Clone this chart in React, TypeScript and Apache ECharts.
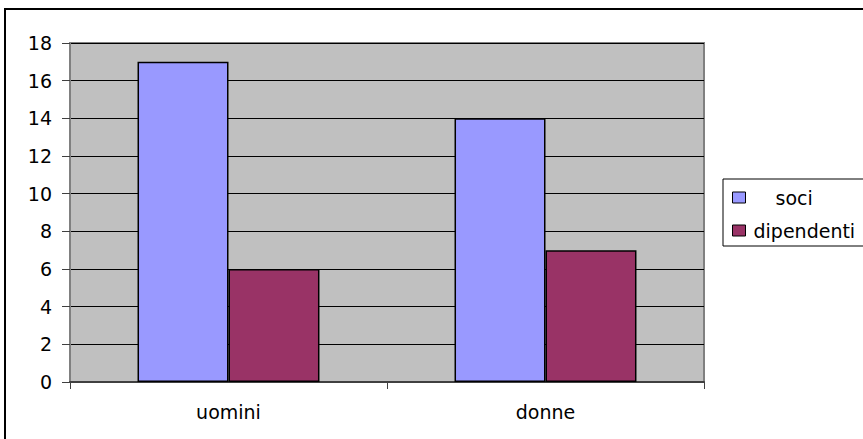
import React, { useEffect, useRef } from "react";
import * as echarts from "echarts";

const categories = ["uomini", "donne"];
const seriesNames = ["soci", "dipendenti"];
const sociValues = [17, 14];
const dipendentiValues = [6, 7];
const yTicks = { min: 0, max: 18, interval: 2 };

const FONT = "DejaVu Sans";

export default function App() {
  const ref = useRef<HTMLDivElement>(null);
  useEffect(() => {
    if (!ref.current) return;
    const chart = echarts.init(ref.current, null, { renderer: "svg" });
    chart.setOption({
      animation: false,
      backgroundColor: "#ffffff",
      graphic: [
        {
          type: "rect",
          shape: { x: 5, y: 9, width: 900, height: 500 },
          style: { fill: "none", stroke: "#000", lineWidth: 2 },
          silent: true,
        },
      ],
      grid: {
        left: 70,
        right: 159,
        top: 43,
        bottom: 57,
        show: true,
        backgroundColor: "#C0C0C0",
        borderColor: "#808080",
        borderWidth: 2,
      },
      legend: {
        orient: "vertical",
        left: 723,
        top: 179,
        padding: [9, 30, 6, 9],
        itemGap: 14,
        itemWidth: 13,
        itemHeight: 11,
        icon: "rect",
        borderColor: "#000",
        borderWidth: 1,
        backgroundColor: "#fff",
        selectedMode: false,
        data: seriesNames.map((n) => ({ name: n, icon: "rect", itemStyle: { borderColor: "#000", borderWidth: 1 } })),
        formatter: (name: string) => (name === "soci" ? "{s|" + name + "}" : "{d|" + name + "}"),
        textStyle: {
          fontFamily: FONT,
          fontSize: 19,
          color: "#000",
          rich: {
            s: { fontFamily: FONT, fontSize: 19, color: "#000", padding: [0, 0, 0, 25] },
            d: { fontFamily: FONT, fontSize: 19, color: "#000", padding: [0, 0, 0, 3] },
          },
        },
      },
      xAxis: {
        type: "category",
        data: categories,
        axisLine: { show: true, lineStyle: { color: "#404040", width: 2 } },
        axisTick: { show: true, alignWithLabel: false, length: 7, lineStyle: { color: "#404040", width: 1 } },
        axisLabel: { fontFamily: FONT, fontSize: 19, color: "#000", margin: 20 },
        splitLine: { show: false },
      },
      yAxis: {
        type: "value",
        min: yTicks.min,
        max: yTicks.max,
        interval: yTicks.interval,
        axisLine: { show: true, lineStyle: { color: "#808080", width: 2 } },
        axisTick: { show: true, length: 8, lineStyle: { color: "#404040", width: 1 } },
        axisLabel: { fontFamily: FONT, fontSize: 19, color: "#000", margin: 18 },
        splitLine: { show: true, lineStyle: { color: "#000", width: 1 } },
      },
      series: [
        {
          name: seriesNames[0],
          type: "bar",
          data: sociValues,
          barGap: "0%",
          barCategoryGap: "42.6%",
          itemStyle: { color: "#9999FF", borderColor: "#000", borderWidth: 1.5 },
        },
        {
          name: seriesNames[1],
          type: "bar",
          data: dipendentiValues,
          barGap: "0%",
          barCategoryGap: "42.6%",
          itemStyle: { color: "#993366", borderColor: "#000", borderWidth: 1.5 },
        },
      ],
    });
    return () => chart.dispose();
  }, []);
  return (
    <div
      ref={ref}
      style={{ position: "absolute", left: 0, top: 0, width: 863, height: 439 }}
    />
  );
}
